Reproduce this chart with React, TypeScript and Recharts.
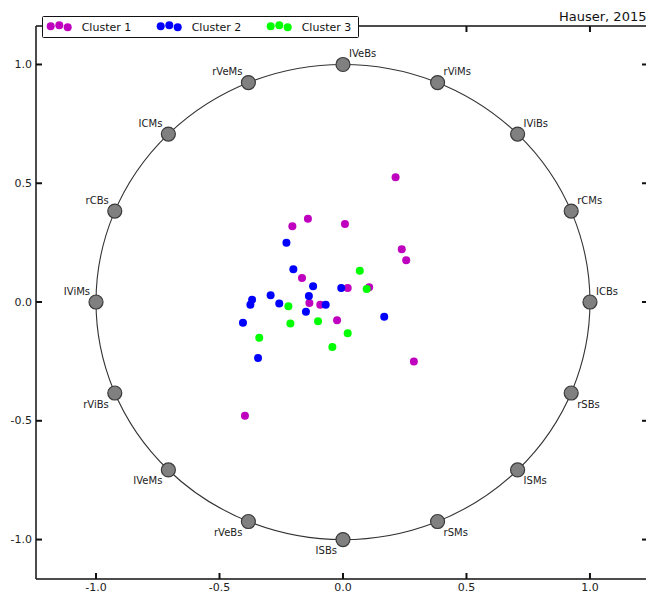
import React from 'react';
import { ScatterChart, Scatter, XAxis, YAxis, Legend } from 'recharts';

// ring nodes (unit circle, 16 positions)
const nodeNames = ['IVeBs', 'rViMs', 'IViBs', 'rCMs', 'ICBs', 'rSBs', 'ISMs', 'rSMs', 'ISBs', 'rVeBs', 'IVeMs', 'rViBs', 'IViMs', 'rCBs', 'ICMs', 'rVeMs'];
const nodeX = [0, 0.383, 0.707, 0.924, 1, 0.924, 0.707, 0.383, 0, -0.383, -0.707, -0.924, -1, -0.924, -0.707, -0.383];
const nodeY = [1, 0.924, 0.707, 0.383, 0, -0.383, -0.707, -0.924, -1, -0.924, -0.707, -0.383, 0, 0.383, 0.707, 0.924];

// clusters
const cluster1X = [0.213, -0.142, -0.205, 0.008, 0.238, 0.256, -0.166, 0.019, 0.106, -0.136, -0.092, -0.024, 0.287, -0.397];
const cluster1Y = [0.525, 0.351, 0.319, 0.328, 0.222, 0.176, 0.101, 0.059, 0.062, -0.004, -0.011, -0.077, -0.25, -0.479];
const cluster2X = [-0.229, -0.201, -0.121, -0.007, -0.293, -0.368, -0.375, -0.138, -0.258, -0.07, -0.15, 0.167, -0.405, -0.344];
const cluster2Y = [0.25, 0.138, 0.066, 0.059, 0.029, 0.01, -0.011, 0.025, -0.006, -0.011, -0.041, -0.062, -0.087, -0.236];
const cluster3X = [0.068, 0.096, -0.221, -0.213, -0.101, 0.019, -0.339, -0.043];
const cluster3Y = [0.132, 0.055, -0.018, -0.09, -0.081, -0.131, -0.15, -0.189];

const tickValues = [-1, -0.5, 0, 0.5, 1];
const seriesNames = ['Cluster 1', 'Cluster 2', 'Cluster 3'];
const seriesColors = ['#bf00bf', '#0000ff', '#00ff00'];
const titleText = 'Hauser, 2015';

const xDomain: [number, number] = [-1.243, 1.235];
const yDomain: [number, number] = [-1.166, 1.162];

const FONT = '"DejaVu Sans", sans-serif';
const INK = '#111';
const TICK_LEN = 6;

const zip = (xs: number[], ys: number[]) => xs.map((x, i) => ({ x, y: ys[i] }));
const nodes = nodeNames.map((name, i) => ({ name, x: nodeX[i], y: nodeY[i] }));
const clusters = [zip(cluster1X, cluster1Y), zip(cluster2X, cluster2Y), zip(cluster3X, cluster3Y)];

const fmt = (v: number) => v.toFixed(1);

// inward ticks with labels
const BottomTick = (p: any) => (
  <g>
    <line x1={p.x} y1={p.y} x2={p.x} y2={p.y - TICK_LEN} stroke={INK} strokeWidth={2} />
    <text x={p.x} y={p.y + 8.5} textAnchor="middle" dominantBaseline="central" fontSize={11} fontFamily={FONT} fill="#222">
      {fmt(p.payload.value)}
    </text>
  </g>
);
const LeftTick = (p: any) => (
  <g>
    <line x1={p.x} y1={p.y} x2={p.x + TICK_LEN} y2={p.y} stroke={INK} strokeWidth={2} />
    <text x={p.x - 4} y={p.y} textAnchor="end" dominantBaseline="central" fontSize={11} fontFamily={FONT} fill="#222">
      {fmt(p.payload.value)}
    </text>
  </g>
);
const TopTick = (p: any) => (
  <line x1={p.x} y1={p.y} x2={p.x} y2={p.y + TICK_LEN} stroke={INK} strokeWidth={2} />
);
const RightTick = (p: any) => (
  <line x1={p.x} y1={p.y} x2={p.x - TICK_LEN} y2={p.y} stroke={INK} strokeWidth={2} />
);

const RingLine = (props: any) => {
  const pts: { x: number; y: number }[] = props.points || [];
  if (!pts.length) return <g />;
  const xs = pts.map((p) => p.x);
  const ys = pts.map((p) => p.y);
  const x0 = Math.min(...xs), x1 = Math.max(...xs);
  const y0 = Math.min(...ys), y1 = Math.max(...ys);
  return (
    <ellipse
      cx={(x0 + x1) / 2}
      cy={(y0 + y1) / 2}
      rx={(x1 - x0) / 2}
      ry={(y1 - y0) / 2}
      fill="none"
      stroke="#333"
      strokeWidth={1.1}
    />
  );
};

const NodeShape = (props: any) => {
  const { cx, cy, payload } = props;
  const right = payload.x > 0 || (payload.x === 0 && payload.y > 0);
  const up = payload.y >= 0;
  return (
    <g>
      <circle cx={cx} cy={cy} r={7} fill="#808080" stroke="#3a3a3a" strokeWidth={1.2} />
      <text
        x={right ? cx + 6 : cx - 6}
        y={up ? cy - 11 : cy + 11}
        textAnchor={right ? 'start' : 'end'}
        dominantBaseline="central"
        fontSize={10}
        fontFamily={FONT}
        fill="#222"
      >
        {payload.name}
      </text>
    </g>
  );
};

const dotShape = (color: string) => (props: any) => (
  <circle cx={props.cx} cy={props.cy} r={4} fill={color} />
);

const NoShape = () => <g />;

const LegendBox = () => {
  const groupX = [5, 115, 225];
  return (
    <svg width={318} height={23} style={{ display: 'block' }}>
      <rect x={0.5} y={0.5} width={316} height={21} fill="#fff" stroke={INK} strokeWidth={1} rx={1} />
      {seriesNames.map((name, i) => (
        <g key={name}>
          <circle cx={groupX[i] + 3.7} cy={10.3} r={4} fill={seriesColors[i]} />
          <circle cx={groupX[i] + 12.3} cy={9.3} r={4} fill={seriesColors[i]} />
          <circle cx={groupX[i] + 20.7} cy={11.3} r={4} fill={seriesColors[i]} />
          <text x={groupX[i] + 34.7} y={11} dominantBaseline="central" fontSize={11} fontFamily={FONT} fill={INK}>
            {name}
          </text>
        </g>
      ))}
    </svg>
  );
};

export default function App() {
  const axisLine = { stroke: INK, strokeWidth: 1.5 };
  return (
    <div
      style={{
        position: 'fixed',
        left: 0,
        top: 0,
        width: 646,
        height: 593,
        overflow: 'hidden',
        background: '#fff',
      }}
    >
      <ScatterChart width={660} height={593} margin={{ top: 25, right: 11, left: 0, bottom: 0 }}>
        <XAxis
          type="number"
          dataKey="x"
          domain={xDomain}
          ticks={tickValues}
          allowDataOverflow
          height={14}
          tickSize={0}
          tickMargin={0}
          tickLine={false}
          axisLine={axisLine}
          tick={BottomTick}
        />
        <XAxis
          xAxisId="top"
          orientation="top"
          type="number"
          dataKey="x"
          domain={xDomain}
          ticks={tickValues}
          allowDataOverflow
          height={1}
          tickSize={0}
          tickMargin={0}
          tickLine={false}
          axisLine={axisLine}
          tick={TopTick}
        />
        <YAxis
          type="number"
          dataKey="y"
          domain={yDomain}
          ticks={tickValues}
          allowDataOverflow
          width={36}
          tickSize={0}
          tickMargin={0}
          tickLine={false}
          axisLine={axisLine}
          tick={LeftTick}
        />
        <YAxis
          yAxisId="right"
          orientation="right"
          type="number"
          dataKey="y"
          domain={yDomain}
          ticks={tickValues}
          allowDataOverflow
          width={1}
          tickSize={0}
          tickMargin={0}
          tickLine={false}
          axisLine={axisLine}
          tick={RightTick}
        />
        <Legend
          layout="horizontal"
          verticalAlign="middle"
          align="center"
          content={() => <LegendBox />}
          wrapperStyle={{ position: 'absolute', top: 16, left: 42, width: 318, height: 23 }}
        />
        <Scatter
          name="frame"
          data={nodes}
          xAxisId="top"
          yAxisId="right"
          shape={NoShape}
          legendType="none"
          isAnimationActive={false}
        />
        <Scatter
          name="nodes"
          data={nodes}
          line={RingLine}
          shape={NodeShape}
          legendType="none"
          isAnimationActive={false}
        />
        {clusters.map((data, i) => (
          <Scatter
            key={seriesNames[i]}
            name={seriesNames[i]}
            data={data}
            fill={seriesColors[i]}
            shape={dotShape(seriesColors[i])}
            isAnimationActive={false}
          />
        ))}
      </ScatterChart>
      <div
        style={{
          position: 'absolute',
          left: 559,
          top: 9,
          fontSize: 13,
          fontFamily: FONT,
          color: INK,
          whiteSpace: 'nowrap',
          lineHeight: '16px',
        }}
      >
        {titleText}
      </div>
    </div>
  );
}
